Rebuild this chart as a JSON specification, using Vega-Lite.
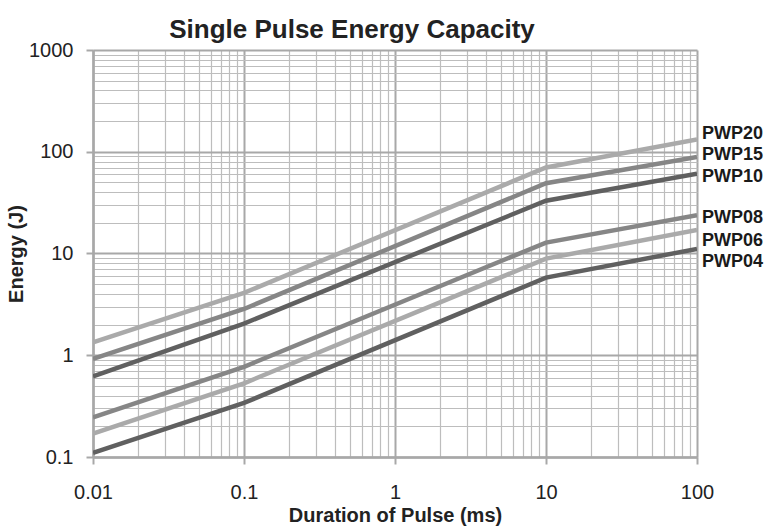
{
  "$schema": "https://vega.github.io/schema/vega-lite/v6.json",
  "autosize": "none",
  "width": 604,
  "height": 407,
  "padding": {"left": 93, "top": 50, "right": 82, "bottom": 75},
  "background": "white",
  "config": {
    "font": "Liberation Sans",
    "view": {"stroke": null},
    "axis": {
      "labelFont": "Liberation Sans",
      "titleFont": "Liberation Sans",
      "labelColor": "#222222",
      "titleColor": "#222222"
    }
  },
  "title": {
    "text": "Single Pulse Energy Capacity",
    "fontSize": 26,
    "fontWeight": "bold",
    "color": "#222222",
    "anchor": "middle",
    "dx": -43,
    "offset": -3
  },
  "datasets": {
    "lines": [
      {"series": "PWP20", "duration": 0.01, "energy": 1.34},
      {"series": "PWP20", "duration": 0.1, "energy": 4.1},
      {"series": "PWP20", "duration": 10, "energy": 70},
      {"series": "PWP20", "duration": 100, "energy": 132},
      {"series": "PWP15", "duration": 0.01, "energy": 0.92},
      {"series": "PWP15", "duration": 0.1, "energy": 2.85},
      {"series": "PWP15", "duration": 10, "energy": 49},
      {"series": "PWP15", "duration": 100, "energy": 89},
      {"series": "PWP10", "duration": 0.01, "energy": 0.62},
      {"series": "PWP10", "duration": 0.1, "energy": 2.05},
      {"series": "PWP10", "duration": 10, "energy": 33},
      {"series": "PWP10", "duration": 100, "energy": 61},
      {"series": "PWP08", "duration": 0.01, "energy": 0.245},
      {"series": "PWP08", "duration": 0.1, "energy": 0.77},
      {"series": "PWP08", "duration": 10, "energy": 12.8},
      {"series": "PWP08", "duration": 100, "energy": 23.8},
      {"series": "PWP06", "duration": 0.01, "energy": 0.17},
      {"series": "PWP06", "duration": 0.1, "energy": 0.53},
      {"series": "PWP06", "duration": 10, "energy": 8.9},
      {"series": "PWP06", "duration": 100, "energy": 17},
      {"series": "PWP04", "duration": 0.01, "energy": 0.11},
      {"series": "PWP04", "duration": 0.1, "energy": 0.34},
      {"series": "PWP04", "duration": 10, "energy": 5.8},
      {"series": "PWP04", "duration": 100, "energy": 11.1}
    ],
    "labels": [
      {"series": "PWP20", "duration": 100, "energy": 151},
      {"series": "PWP15", "duration": 100, "energy": 92},
      {"series": "PWP10", "duration": 100, "energy": 57},
      {"series": "PWP08", "duration": 100, "energy": 22.1},
      {"series": "PWP06", "duration": 100, "energy": 13.4},
      {"series": "PWP04", "duration": 100, "energy": 8.2}
    ]
  },
  "layer": [
    {
      "data": {"name": "lines"},
      "mark": {"type": "line", "strokeWidth": 4.5, "strokeCap": "butt", "strokeJoin": "miter", "clip": true},
      "encoding": {
        "x": {
          "field": "duration",
          "type": "quantitative",
          "scale": {"type": "log", "domain": [0.01, 100], "nice": false},
          "axis": {
            "title": "Duration of Pulse (ms)",
            "titleFontSize": 20,
            "titleFontWeight": "bold",
            "titlePadding": 3,
            "labelFontSize": 20,
            "labelPadding": 18,
            "labelFlush": false,
            "values": [0.01,0.02,0.03,0.04,0.05,0.06,0.07,0.08,0.09,0.1,0.2,0.3,0.4,0.5,0.6,0.7,0.8,0.9,1,2,3,4,5,6,7,8,9,10,20,30,40,50,60,70,80,90,100],
            "labelExpr": "abs(log(datum.value)/LN10 - round(log(datum.value)/LN10)) < 0.000001 ? format(datum.value, '~g') : ''",
            "grid": true,
            "gridColor": {"condition": {"test": "abs(log(datum.value)/LN10 - round(log(datum.value)/LN10)) < 0.000001", "value": "#a8a8a8"}, "value": "#bdbdbd"},
            "gridWidth": {"condition": {"test": "abs(log(datum.value)/LN10 - round(log(datum.value)/LN10)) < 0.000001", "value": 2}, "value": 1.2},
            "tickSize": 7,
            "tickWidth": 2,
            "tickColor": "#a8a8a8",
            "tickOpacity": {"condition": {"test": "abs(log(datum.value)/LN10 - round(log(datum.value)/LN10)) < 0.000001", "value": 1}, "value": 0},
            "domainColor": "#a8a8a8",
            "domainWidth": 2.5
          }
        },
        "y": {
          "field": "energy",
          "type": "quantitative",
          "scale": {"type": "log", "domain": [0.1, 1000], "nice": false},
          "axis": {
            "title": "Energy (J)",
            "titleFontSize": 20,
            "titleFontWeight": "bold",
            "titlePadding": 2,
            "labelFontSize": 20,
            "labelPadding": 13,
            "labelFlush": false,
            "values": [0.1,0.2,0.3,0.4,0.5,0.6,0.7,0.8,0.9,1,2,3,4,5,6,7,8,9,10,20,30,40,50,60,70,80,90,100,200,300,400,500,600,700,800,900,1000],
            "labelExpr": "abs(log(datum.value)/LN10 - round(log(datum.value)/LN10)) < 0.000001 ? format(datum.value, '~g') : ''",
            "grid": true,
            "gridColor": {"condition": {"test": "abs(log(datum.value)/LN10 - round(log(datum.value)/LN10)) < 0.000001", "value": "#a8a8a8"}, "value": "#bdbdbd"},
            "gridWidth": {"condition": {"test": "abs(log(datum.value)/LN10 - round(log(datum.value)/LN10)) < 0.000001", "value": 2}, "value": 1.2},
            "tickSize": 7,
            "tickWidth": 2,
            "tickColor": "#a8a8a8",
            "tickOpacity": {"condition": {"test": "abs(log(datum.value)/LN10 - round(log(datum.value)/LN10)) < 0.000001", "value": 1}, "value": 0},
            "domainColor": "#a8a8a8",
            "domainWidth": 2.5
          }
        },
        "color": {
          "field": "series",
          "type": "nominal",
          "scale": {
            "domain": ["PWP20", "PWP15", "PWP10", "PWP08", "PWP06", "PWP04"],
            "range": ["#aaaaaa", "#868686", "#606060", "#868686", "#aaaaaa", "#606060"]
          },
          "legend": null
        },
        "detail": {"field": "series", "type": "nominal"}
      }
    },
    {
      "data": {"name": "labels"},
      "mark": {"type": "text", "align": "left", "baseline": "middle", "dx": 5, "fontSize": 18, "fontWeight": "bold", "color": "#1a1a1a", "font": "Liberation Sans"},
      "encoding": {
        "x": {"field": "duration", "type": "quantitative"},
        "y": {"field": "energy", "type": "quantitative"},
        "text": {"field": "series", "type": "nominal"}
      }
    }
  ]
}
